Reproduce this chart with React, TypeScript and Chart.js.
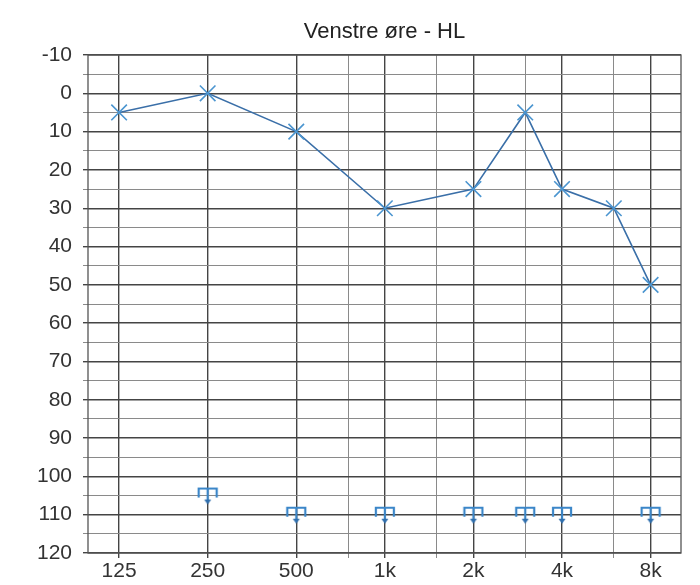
import React, { useEffect, useRef } from "react";
import { Chart, registerables } from "chart.js";

Chart.register(...registerables);

const TITLE = "Venstre øre - HL";
const FREQS_AIR = [125, 250, 500, 1000, 2000, 3000, 4000, 6000, 8000];
const HL_AIR = [5, 0, 10, 30, 25, 5, 25, 30, 50];
const FREQS_BONE = [250, 500, 1000, 2000, 3000, 4000, 8000];
const HL_BONE = [105, 110, 110, 110, 110, 110, 110];
const X_GRID = [125, 250, 500, 750, 1000, 1500, 2000, 3000, 4000, 6000, 8000];
const X_LABELS: Record<number, string> = { 125: "125", 250: "250", 500: "500", 1000: "1k", 2000: "2k", 4000: "4k", 8000: "8k" };

function makeBoneMarker(): HTMLCanvasElement {
  const c = document.createElement("canvas");
  c.width = 22;
  c.height = 22;
  const g = c.getContext("2d")!;
  g.strokeStyle = "#3b86c8";
  g.fillStyle = "#2f6fae";
  g.lineWidth = 2.2;
  g.beginPath();
  g.moveTo(2, 13);
  g.lineTo(2, 4);
  g.lineTo(20, 4);
  g.lineTo(20, 13);
  g.moveTo(11, 4);
  g.lineTo(11, 16);
  g.stroke();
  g.beginPath();
  g.moveTo(7.5, 15);
  g.lineTo(14.5, 15);
  g.lineTo(11, 20);
  g.closePath();
  g.fill();
  return c;
}

export default function App() {
  const ref = useRef<HTMLCanvasElement | null>(null);
  useEffect(() => {
    if (!ref.current) return;
    const marker = makeBoneMarker();
    const frame = {
      id: "frame",
      afterDatasetsDraw(chart: any) {
        const { ctx, chartArea: a } = chart;
        ctx.save();
        ctx.strokeStyle = "#555";
        ctx.lineWidth = 1.3;
        ctx.strokeRect(a.left, a.top, a.right - a.left, a.bottom - a.top);
        ctx.restore();
      },
    };
    const font = { family: "'Liberation Sans', Arial, sans-serif", size: 21 };
    const chart = new Chart(ref.current, {
      type: "line",
      data: {
        datasets: [
          {
            data: FREQS_AIR.map((f, i) => ({ x: f, y: HL_AIR[i] })),
            borderColor: "#3a6fa8",
            borderWidth: 1.6,
            pointStyle: "crossRot",
            pointRadius: 11,
            pointBorderColor: "#4b95d0",
            pointBorderWidth: 1.6,
            fill: false,
            tension: 0,
          },
          {
            data: FREQS_BONE.map((f, i) => ({ x: f, y: HL_BONE[i] })),
            showLine: false,
            pointStyle: marker as any,
            pointRadius: 10,
          },
        ],
      },
      options: {
        animation: false,
        responsive: true,
        maintainAspectRatio: false,
        layout: { padding: { left: 0, right: 19, top: 0, bottom: 0 } },
        plugins: {
          legend: { display: false },
          tooltip: { enabled: false },
          title: {
            display: true,
            text: TITLE,
            fullSize: false,
            color: "#222",
            font: { family: "'Liberation Sans', Arial, sans-serif", size: 22, weight: "normal" },
            padding: { top: 19, bottom: 9.6 },
          },
        },
        scales: {
          x: {
            type: "logarithmic",
            min: 98,
            max: 10150,
            afterBuildTicks: (s: any) => {
              s.ticks = X_GRID.map((v) => ({ value: v }));
            },
            afterFit: (s: any) => {
              s.height = 32;
            },
            ticks: {
              autoSkip: false,
              maxRotation: 0,
              padding: 1,
              color: "#333",
              font,
              callback: (v: any) => X_LABELS[Number(v)] ?? "",
            },
            grid: {
              color: (c: any) => (X_LABELS[c.tick?.value] ? "#444" : "#8a8a8a"),
              lineWidth: (c: any) => (X_LABELS[c.tick?.value] ? 1.4 : 1),
              tickLength: 5,
            },
            border: { display: false },
          },
          y: {
            reverse: true,
            min: -10,
            max: 120,
            afterBuildTicks: (s: any) => {
              const t = [];
              for (let v = -10; v <= 120; v += 5) t.push({ value: v });
              s.ticks = t;
            },
            afterFit: (s: any) => {
              s.width = 88;
            },
            ticks: {
              autoSkip: false,
              padding: 11,
              color: "#333",
              font,
              callback: (v: any) => (Number(v) % 10 === 0 ? String(v) : ""),
            },
            grid: {
              color: (c: any) => (c.tick?.value % 10 === 0 ? "#444" : "#8a8a8a"),
              lineWidth: (c: any) => (c.tick?.value % 10 === 0 ? 1.4 : 1),
              tickLength: 5,
            },
            border: { display: false },
          },
        },
      },
      plugins: [frame],
    } as any);
    return () => chart.destroy();
  }, []);
  return (
    <div style={{ position: "absolute", left: 0, top: 0, width: 700, height: 585, background: "#fff" }}>
      <canvas ref={ref} />
    </div>
  );
}
